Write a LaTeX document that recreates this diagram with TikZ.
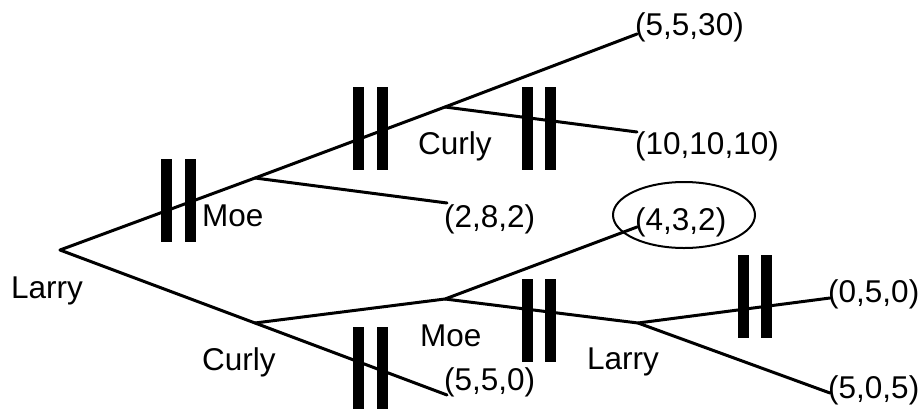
\documentclass[tikz,border=0pt]{standalone}
\usepackage{fontspec}
\setmainfont{Liberation Sans}
\begin{document}
\begin{tikzpicture}[x=1pt,y=-1pt,
  edge/.style={line width=3pt, line cap=round, line join=round},
  lab/.style={anchor=base west, inner sep=0pt, font=\fontsize{31.5}{36}\selectfont},
  bar/.style={fill=black}]
\useasboundingbox (0,0) rectangle (924,408);
% tree points
\coordinate (L0) at (60,250);
\coordinate (M1) at (255,178);
\coordinate (C1) at (445,107);
\coordinate (T1) at (637,34);
\coordinate (T2) at (637,132);
\coordinate (T3) at (447,203);
\coordinate (C2) at (255,323);
\coordinate (T4) at (447,395);
\coordinate (M2) at (445,299);
\coordinate (T5) at (637,227);
\coordinate (L2) at (638,323);
\coordinate (T6) at (830,298);
\coordinate (T7) at (830,393);
% edges
\draw[edge] (L0) -- (M1) -- (C1) -- (T1);
\draw[edge] (C1) -- (T2);
\draw[edge] (M1) -- (T3);
\draw[edge] (L0) -- (C2) -- (T4);
\draw[edge] (C2) -- (M2) -- (T5);
\draw[edge] (M2) -- (L2) -- (T6);
\draw[edge] (L2) -- (T7);
% bars
\foreach \xa/\ya in {166.5/159, 190.5/159, 358.5/87, 382.5/87, 527.5/87, 550.5/87,
                     358.5/327, 382.5/327, 527.5/279, 550.5/279, 743/255, 766.5/255}
  \fill[bar] (\xa-5.5,\ya) rectangle (\xa+5.5,\ya+83);
% labels
\node[lab] (nL0) at (11,298) {Larry};
\node[lab] (nM1) at (202,226) {Moe};
\node[lab] (nC1) at (418,154) {Curly};
\node[lab] (nC2) at (202,370) {Curly};
\node[lab] (nM2) at (420,346) {Moe};
\node[lab] (nL2) at (587,369) {Larry};
\node[lab] (p1) at (635,35) {(5,5,30)};
\node[lab] (p2) at (635,154) {(10,10,10)};
\node[lab] (p3) at (444,227) {(2,8,2)};
\node[lab] (p4) at (635,230) {(4,3,2)};
\node[lab] (p5) at (828,302) {(0,5,0)};
\node[lab] (p6) at (828,398) {(5,0,5)};
\node[lab] (p7) at (444,390) {(5,5,0)};
\draw[line width=2pt] (684,215) ellipse[x radius=71, y radius=33];
\end{tikzpicture}
\end{document}
